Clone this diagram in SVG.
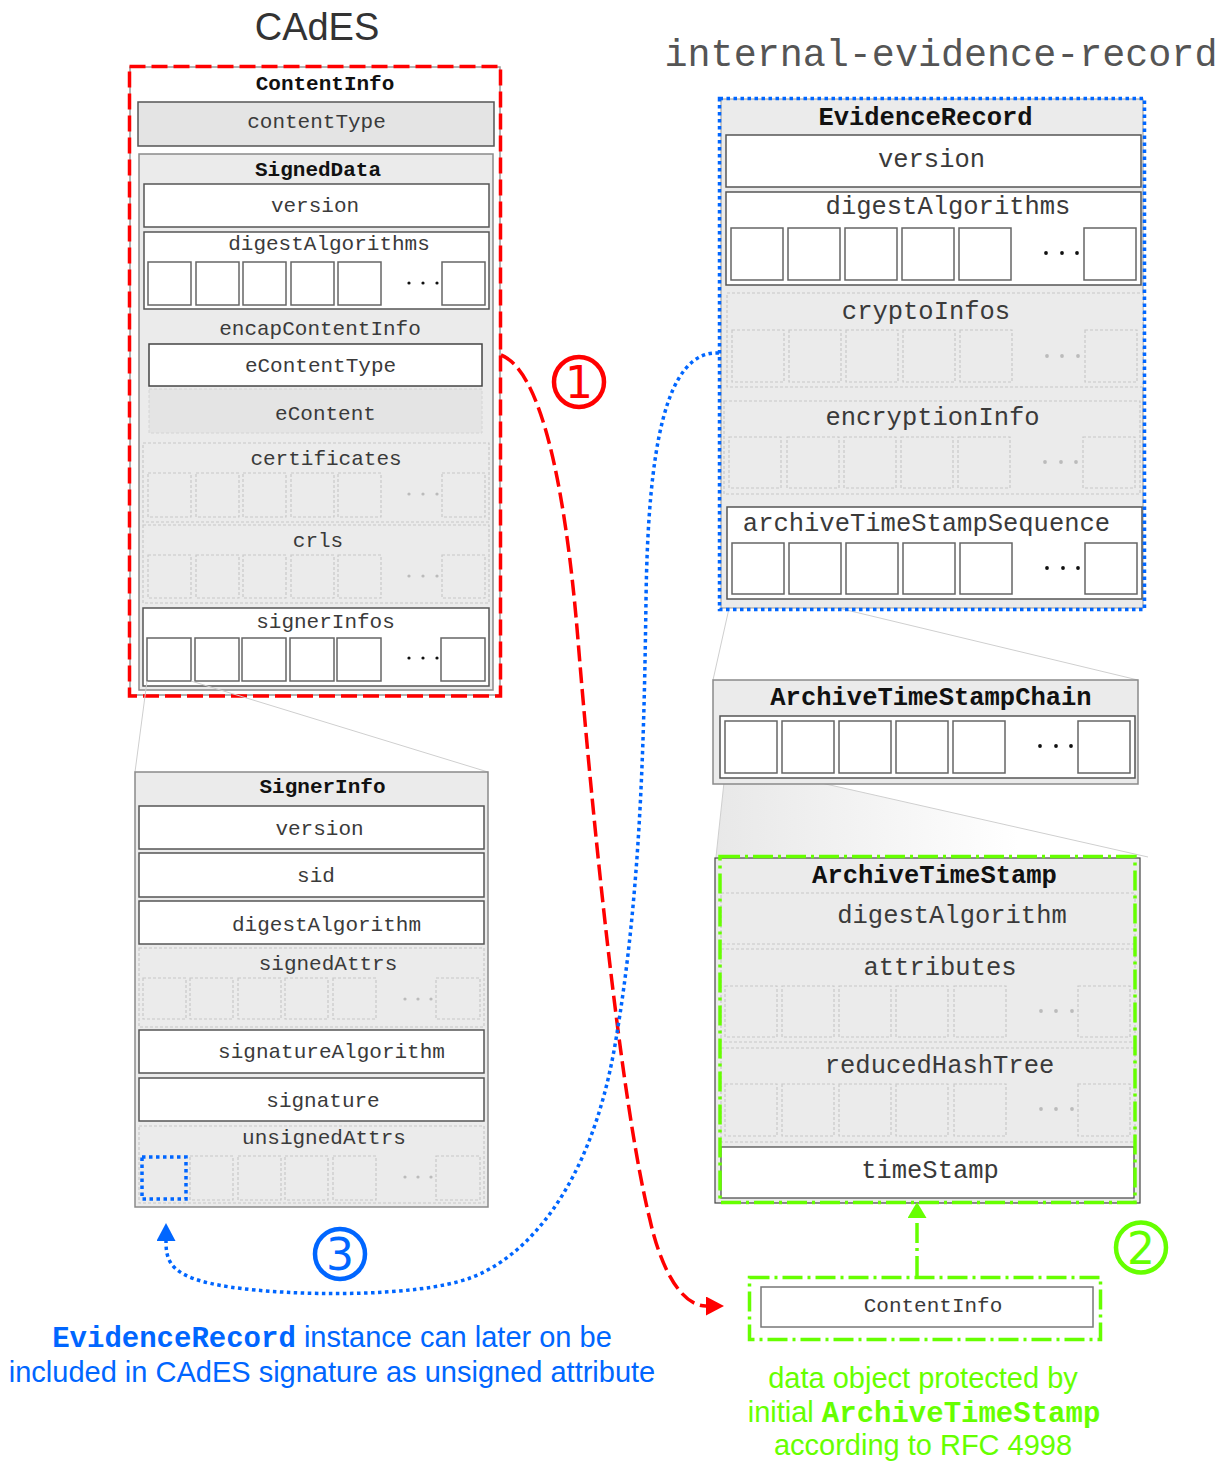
<svg xmlns="http://www.w3.org/2000/svg" width="1229" height="1463" viewBox="0 0 1229 1463">
<defs>
<style>
.mono{font-family:"Liberation Mono","Courier New",monospace;fill:#3a3a3a;text-anchor:middle}
.s21{font-size:21px}
.s25{font-size:25.5px}
.b{font-weight:bold;fill:#111}
.sans{font-family:"Liberation Sans",Arial,sans-serif}
.bg{fill:#ebebeb;stroke:#8a8a8a;stroke-width:1.5}
.fld{fill:#fff;stroke:#555;stroke-width:1.5}
.opt{fill:#ebebeb;stroke:#c8c8c8;stroke-width:1.2;stroke-dasharray:3 2}
.sq{fill:#fff;stroke:#666;stroke-width:1.5}
.osq{fill:#ebebeb;stroke:#c8c8c8;stroke-width:1.2;stroke-dasharray:3 2}
.dot{fill:#111}
.odot{fill:#bbb}
.guide{stroke:#cfcfcf;stroke-width:1;fill:none}
.red{fill:none;stroke:#ff0000;stroke-width:3.5;stroke-dasharray:16 6}
.blue{fill:none;stroke:#0066ff;stroke-width:3.5;stroke-dasharray:3.5 3.5}
.green{fill:none;stroke:#66ff00;stroke-width:3.5;stroke-dasharray:20 5 3 5}
.num{font-family:"DejaVu Sans","Liberation Sans",sans-serif;font-size:44px;text-anchor:middle}
</style>
<linearGradient id="fanFill" x1="0" y1="0" x2="1" y2="0">
<stop offset="0" stop-color="#e8e8e8"/>
<stop offset="0.7" stop-color="#ffffff"/>
</linearGradient>
<marker id="arrowRed" markerUnits="userSpaceOnUse" markerWidth="18" markerHeight="19" refX="0" refY="9.5" orient="auto">
<path d="M0,0 L18,9.5 L0,19 z" fill="#ff0000"/>
</marker>
<marker id="arrowBlue" markerUnits="userSpaceOnUse" markerWidth="18" markerHeight="19" refX="0" refY="9.5" orient="auto">
<path d="M0,0 L18,9.5 L0,19 z" fill="#0066ff"/>
</marker>
<marker id="arrowGreen" markerUnits="userSpaceOnUse" markerWidth="16" markerHeight="19" refX="0" refY="9.5" orient="auto">
<path d="M0,0 L16,9.5 L0,19 z" fill="#66ff00"/>
</marker>
</defs>

<rect width="1229" height="1463" fill="#fff"/>

<!-- headings -->
<g id="headings">
<text x="317" y="40" class="sans" font-size="38" fill="#333" text-anchor="middle">CAdES</text>
<text x="941" y="66" class="mono" font-size="38.4" style="fill:#555">internal-evidence-record</text>
</g>

<!-- CAdES ContentInfo / SignedData -->
<g id="content-info">
<rect x="130" y="67" width="370" height="628" fill="#fff" stroke="#999" stroke-width="1.5"/>
<text x="325" y="90" class="mono s21 b">ContentInfo</text>
<rect x="138" y="102" width="356" height="44" fill="#e4e4e4" stroke="#555" stroke-width="1.5"/>
<text x="316.5" y="128" class="mono s21">contentType</text>
<g id="signed-data">
<rect x="139" y="154" width="354" height="536" class="bg"/>
<text x="318" y="176" class="mono s21 b">SignedData</text>
<rect x="144" y="184" width="345" height="43" class="fld"/>
<text x="315" y="212" class="mono s21">version</text>
<rect x="144" y="232" width="345" height="77" class="fld"/>
<text x="329" y="250" class="mono s21">digestAlgorithms</text>
<g class="sq">
<rect x="148" y="262" width="43" height="43"/><rect x="196" y="262" width="43" height="43"/><rect x="243" y="262" width="43" height="43"/><rect x="291" y="262" width="43" height="43"/><rect x="338" y="262" width="43" height="43"/><rect x="442" y="262" width="43" height="43"/>
</g>
<g class="dot"><circle cx="409" cy="283" r="1.6"/><circle cx="423" cy="283" r="1.6"/><circle cx="437" cy="283" r="1.6"/></g>
<text x="320" y="335" class="mono s21">encapContentInfo</text>
<rect x="149" y="344" width="333" height="42" fill="#fff" stroke="#444" stroke-width="1.5"/>
<text x="320.5" y="372" class="mono s21">eContentType</text>
<rect x="149" y="389" width="333" height="44" fill="#e4e4e4" stroke="#d4d4d4" stroke-width="1" stroke-dasharray="3 2"/>
<text x="325.5" y="420" class="mono s21">eContent</text>
<rect x="143" y="443" width="346" height="79" class="opt"/>
<text x="326" y="465" class="mono s21">certificates</text>
<g class="osq">
<rect x="148" y="473" width="43" height="44"/><rect x="196" y="473" width="43" height="44"/><rect x="243" y="473" width="43" height="44"/><rect x="291" y="473" width="43" height="44"/><rect x="338" y="473" width="43" height="44"/><rect x="442" y="473" width="43" height="44"/>
</g>
<g class="odot"><circle cx="409" cy="494" r="1.6"/><circle cx="423" cy="494" r="1.6"/><circle cx="437" cy="494" r="1.6"/></g>
<rect x="143" y="525" width="346" height="78" class="opt"/>
<text x="318" y="547" class="mono s21">crls</text>
<g class="osq">
<rect x="148" y="555" width="43" height="43"/><rect x="196" y="555" width="43" height="43"/><rect x="243" y="555" width="43" height="43"/><rect x="291" y="555" width="43" height="43"/><rect x="338" y="555" width="43" height="43"/><rect x="442" y="555" width="43" height="43"/>
</g>
<g class="odot"><circle cx="409" cy="576" r="1.6"/><circle cx="423" cy="576" r="1.6"/><circle cx="437" cy="576" r="1.6"/></g>
<rect x="143" y="608" width="346" height="78" class="fld"/>
<text x="325.5" y="628" class="mono s21">signerInfos</text>
<g class="sq">
<rect x="147" y="638" width="44" height="43"/><rect x="195" y="638" width="44" height="43"/><rect x="242" y="638" width="44" height="43"/><rect x="290" y="638" width="44" height="43"/><rect x="337" y="638" width="44" height="43"/><rect x="441" y="638" width="44" height="43"/>
</g>
<g class="dot"><circle cx="409" cy="658" r="1.6"/><circle cx="423" cy="658" r="1.6"/><circle cx="437" cy="658" r="1.6"/></g>
</g>
<rect x="129.5" y="66.5" width="371" height="629.5" class="red"/>
</g>

<!-- magnification guides -->
<g id="guides">
<line x1="147" y1="681" x2="135" y2="772" class="guide"/>
<line x1="191" y1="681" x2="488" y2="772" class="guide"/>
<line x1="732" y1="595" x2="713" y2="680" class="guide"/>
<line x1="784" y1="595" x2="1138" y2="680" class="guide"/>
<polygon points="725,773 777,773 1148,857 716,857" fill="url(#fanFill)"/>
<line x1="725" y1="773" x2="716" y2="857" class="guide"/>
<line x1="777" y1="773" x2="1148" y2="857" class="guide"/>
</g>

<!-- SignerInfo -->
<g id="signer-info">
<rect x="135" y="772" width="353" height="435" class="bg"/>
<text x="322.5" y="793" class="mono s21 b">SignerInfo</text>
<rect x="139" y="806" width="345" height="43" class="fld"/>
<text x="319.5" y="835" class="mono s21">version</text>
<rect x="139" y="853" width="345" height="44" class="fld"/>
<text x="316" y="882" class="mono s21">sid</text>
<rect x="139" y="901" width="345" height="43" class="fld"/>
<text x="326.5" y="931" class="mono s21">digestAlgorithm</text>
<rect x="139" y="948" width="345" height="79" class="opt"/>
<text x="328" y="970" class="mono s21">signedAttrs</text>
<g class="osq">
<rect x="143" y="978" width="43" height="41"/><rect x="190" y="978" width="43" height="41"/><rect x="238" y="978" width="43" height="41"/><rect x="285" y="978" width="43" height="41"/><rect x="333" y="978" width="43" height="41"/><rect x="436" y="978" width="44" height="41"/>
</g>
<g class="odot"><circle cx="405" cy="999" r="1.6"/><circle cx="418" cy="999" r="1.6"/><circle cx="431" cy="999" r="1.6"/></g>
<rect x="139" y="1030" width="345" height="43" class="fld"/>
<text x="331.5" y="1058" class="mono s21">signatureAlgorithm</text>
<rect x="139" y="1078" width="345" height="43" class="fld"/>
<text x="323" y="1107" class="mono s21">signature</text>
<rect x="139" y="1126" width="345" height="77" class="opt"/>
<text x="324" y="1144" class="mono s21">unsignedAttrs</text>
<g class="osq">
<rect x="190" y="1156" width="43" height="44"/><rect x="238" y="1156" width="43" height="44"/><rect x="285" y="1156" width="43" height="44"/><rect x="333" y="1156" width="43" height="44"/><rect x="436" y="1156" width="44" height="44"/>
</g>
<rect x="142" y="1157" width="44" height="42" class="blue"/>
<g class="odot"><circle cx="405" cy="1177" r="1.6"/><circle cx="418" cy="1177" r="1.6"/><circle cx="431" cy="1177" r="1.6"/></g>
</g>

<!-- EvidenceRecord -->
<g id="evidence-record">
<rect x="721" y="99" width="422" height="509" fill="#ebebeb" stroke="#999" stroke-width="1"/>
<text x="925.5" y="125" class="mono s25 b">EvidenceRecord</text>
<rect x="726" y="135" width="415" height="52" class="fld"/>
<text x="931.5" y="167" class="mono s25">version</text>
<rect x="726" y="192" width="415" height="93" class="fld"/>
<text x="948" y="214" class="mono s25">digestAlgorithms</text>
<g class="sq">
<rect x="731" y="228" width="52" height="52"/><rect x="788" y="228" width="52" height="52"/><rect x="845" y="228" width="52" height="52"/><rect x="902" y="228" width="52" height="52"/><rect x="959" y="228" width="52" height="52"/><rect x="1084" y="228" width="52" height="52"/>
</g>
<g class="dot"><circle cx="1046" cy="253" r="1.9"/><circle cx="1062" cy="253" r="1.9"/><circle cx="1077" cy="253" r="1.9"/></g>
<rect x="727" y="293" width="416" height="94" class="opt"/>
<text x="926" y="319" class="mono s25">cryptoInfos</text>
<g class="osq">
<rect x="732" y="330" width="52" height="52"/><rect x="789" y="330" width="52" height="52"/><rect x="846" y="330" width="52" height="52"/><rect x="903" y="330" width="52" height="52"/><rect x="960" y="330" width="52" height="52"/><rect x="1085" y="330" width="52" height="52"/>
</g>
<g class="odot"><circle cx="1047" cy="356" r="1.9"/><circle cx="1062" cy="356" r="1.9"/><circle cx="1078" cy="356" r="1.9"/></g>
<rect x="724" y="401" width="416" height="93" class="opt"/>
<text x="932.5" y="425" class="mono s25">encryptionInfo</text>
<g class="osq">
<rect x="729" y="437" width="52" height="51"/><rect x="787" y="437" width="52" height="51"/><rect x="844" y="437" width="52" height="51"/><rect x="901" y="437" width="52" height="51"/><rect x="958" y="437" width="52" height="51"/><rect x="1083" y="437" width="52" height="51"/>
</g>
<g class="odot"><circle cx="1045" cy="462" r="1.9"/><circle cx="1061" cy="462" r="1.9"/><circle cx="1076" cy="462" r="1.9"/></g>
<rect x="727" y="507" width="415" height="92" class="fld"/>
<text x="926.5" y="531" class="mono s25">archiveTimeStampSequence</text>
<g class="sq">
<rect x="732" y="543" width="52" height="51"/><rect x="789" y="543" width="52" height="51"/><rect x="846" y="543" width="52" height="51"/><rect x="903" y="543" width="52" height="51"/><rect x="960" y="543" width="52" height="51"/><rect x="1085" y="543" width="52" height="51"/>
</g>
<g class="dot"><circle cx="1047" cy="568" r="1.9"/><circle cx="1063" cy="568" r="1.9"/><circle cx="1078" cy="568" r="1.9"/></g>
<rect x="719.5" y="98.5" width="425" height="511" class="blue"/>
</g>

<!-- ArchiveTimeStampChain -->
<g id="archive-time-stamp-chain">
<rect x="713" y="680" width="425" height="104" class="bg"/>
<text x="931" y="705" class="mono s25 b">ArchiveTimeStampChain</text>
<rect x="720" y="716" width="415" height="62" class="fld"/>
<g class="sq">
<rect x="725" y="721" width="52" height="52"/><rect x="782" y="721" width="52" height="52"/><rect x="839" y="721" width="52" height="52"/><rect x="896" y="721" width="52" height="52"/><rect x="953" y="721" width="52" height="52"/><rect x="1078" y="721" width="52" height="52"/>
</g>
<g class="dot"><circle cx="1040" cy="746" r="1.9"/><circle cx="1056" cy="746" r="1.9"/><circle cx="1071" cy="746" r="1.9"/></g>
</g>

<!-- ArchiveTimeStamp -->
<g id="archive-time-stamp">
<rect x="715" y="858" width="425" height="345" fill="#ebebeb" stroke="#444" stroke-width="1.2"/>
<text x="934.5" y="883" class="mono s25 b">ArchiveTimeStamp</text>
<rect x="721" y="893" width="414" height="51" class="opt"/>
<text x="952" y="923" class="mono s25">digestAlgorithm</text>
<rect x="721" y="949" width="414" height="93" class="opt"/>
<text x="940" y="975" class="mono s25">attributes</text>
<g class="osq">
<rect x="725" y="986" width="52" height="51"/><rect x="782" y="986" width="52" height="51"/><rect x="839" y="986" width="52" height="51"/><rect x="896" y="986" width="52" height="51"/><rect x="954" y="986" width="52" height="51"/><rect x="1078" y="986" width="52" height="51"/>
</g>
<g class="odot"><circle cx="1041" cy="1011" r="1.9"/><circle cx="1056" cy="1011" r="1.9"/><circle cx="1072" cy="1011" r="1.9"/></g>
<rect x="721" y="1048" width="414" height="94" class="opt"/>
<text x="939.5" y="1073" class="mono s25">reducedHashTree</text>
<g class="osq">
<rect x="725" y="1084" width="52" height="52"/><rect x="782" y="1084" width="52" height="52"/><rect x="839" y="1084" width="52" height="52"/><rect x="896" y="1084" width="52" height="52"/><rect x="954" y="1084" width="52" height="52"/><rect x="1078" y="1084" width="52" height="52"/>
</g>
<g class="odot"><circle cx="1041" cy="1109" r="1.9"/><circle cx="1056" cy="1109" r="1.9"/><circle cx="1072" cy="1109" r="1.9"/></g>
<rect x="721" y="1147" width="413" height="51" fill="#fff" stroke="#444" stroke-width="1.2"/>
<text x="930" y="1178" class="mono s25">timeStamp</text>
<rect x="720" y="856.5" width="415" height="346" class="green"/>
</g>

<!-- protected data object -->
<g id="data-object">
<rect x="761" y="1287" width="332" height="40" fill="#fff" stroke="#777" stroke-width="1.5"/>
<text x="933" y="1312" class="mono s21">ContentInfo</text>
<rect x="749.5" y="1277.5" width="351" height="62" class="green"/>
</g>

<!-- connectors -->
<g id="connectors">
<path d="M 501 355 C 540 370, 565 480, 578 640 S 620 1100, 650 1220 C 660 1265, 680 1306, 706 1306" class="red" marker-end="url(#arrowRed)"/>
<path d="M 719 353 C 665 350, 648 450, 646 600 S 640 900, 615 1045 C 590 1190, 525 1258, 470 1278 S 290 1296, 230 1287 S 166 1262, 166 1241" class="blue" marker-end="url(#arrowBlue)"/>
<path d="M 917 1276 L 917 1218" class="green" marker-end="url(#arrowGreen)"/>
</g>

<!-- step markers -->
<g id="step-1">
<circle cx="579" cy="382" r="25" fill="none" stroke="#ff0000" stroke-width="4.5"/>
<text x="579" y="398" class="num" fill="#ff0000">1</text>
</g>
<g id="step-2">
<circle cx="1141" cy="1247.5" r="25" fill="none" stroke="#66ff00" stroke-width="4.5"/>
<text x="1141" y="1264" class="num" fill="#66ff00">2</text>
</g>
<g id="step-3">
<circle cx="340" cy="1254" r="25" fill="none" stroke="#0066ff" stroke-width="4.5"/>
<text x="340" y="1270" class="num" fill="#0066ff">3</text>
</g>

<!-- captions -->
<g id="caption-evidence" fill="#0066ff" font-size="29" text-anchor="middle">
<text x="332" y="1347"><tspan font-family="Liberation Mono, monospace" font-weight="bold">EvidenceRecord</tspan><tspan class="sans"> instance can later on be</tspan></text>
<text x="332" y="1382" class="sans">included in CAdES signature as unsigned attribute</text>
</g>
<g id="caption-protected" fill="#66ff00" font-size="29" text-anchor="middle">
<text x="923" y="1388" class="sans">data object protected by</text>
<text x="924" y="1422"><tspan class="sans">initial </tspan><tspan font-family="Liberation Mono, monospace" font-weight="bold">ArchiveTimeStamp</tspan></text>
<text x="923" y="1455" class="sans">according to RFC 4998</text>
</g>
</svg>
